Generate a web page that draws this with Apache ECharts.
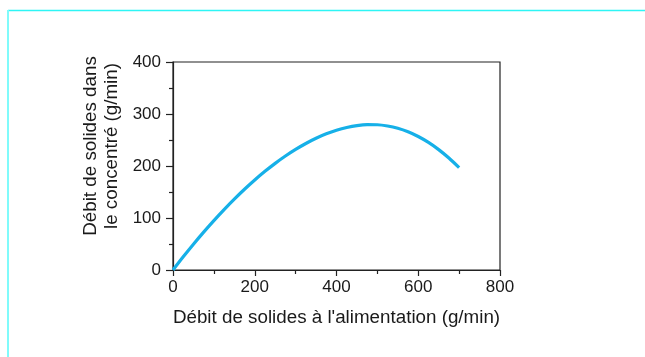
<!DOCTYPE html>
<html>
<head>
<meta charset="utf-8">
<script src="https://cdn.jsdelivr.net/npm/echarts@6/dist/echarts.min.js"></script>
<style>
html,body{margin:0;padding:0;background:#fff;}
#c{width:645px;height:357px;}
</style>
</head>
<body>
<div id="c"></div>
<script>
var feedRate = [0, 25, 50, 75, 100, 125, 150, 175, 200, 225, 250, 275, 300, 325, 350, 375, 400, 425, 450, 475, 500, 525, 550, 575, 600, 625, 650, 675, 700];
var concentrateRate = [0, 25.3, 49.6, 72.8, 95.0, 116.2, 136.3, 155.3, 173.1, 189.7, 205.1, 219.2, 231.9, 243.3, 253.3, 261.8, 268.7, 274.0, 277.7, 279.5, 279.3, 276.9, 272.5, 265.8, 256.7, 245.3, 231.5, 215.3, 196.7];
var xTicks = [0, 200, 400, 600, 800];
var yTicks = [0, 100, 200, 300, 400];
var xTitle = "Débit de solides à l'alimentation (g/min)";
var yTitle = ["Débit de solides dans", "le concentré (g/min)"];

var pts = feedRate.map(function (x, i) { return [x, concentrateRate[i]]; });
var font = "'Liberation Sans', Arial, sans-serif";
var chart = echarts.init(document.getElementById('c'), null, {renderer: 'canvas'});
chart.setOption({
  animation: false,
  backgroundColor: '#fff',
  grid: {left: 173, right: 145, top: 62, bottom: 87, show: true, borderColor: '#222', borderWidth: 1.2, backgroundColor: 'transparent'},
  xAxis: {
    type: 'value', min: xTicks[0], max: xTicks[xTicks.length - 1], interval: 200,
    axisLine: {show: true, lineStyle: {color: '#222', width: 1.2}},
    axisTick: {show: true, length: 6, lineStyle: {color: '#222', width: 1.2}},
    minorTick: {show: true, splitNumber: 2, length: 4, lineStyle: {color: '#222', width: 1.2}},
    splitLine: {show: false},
    axisLabel: {color: '#1a1a1a', fontFamily: font, fontSize: 17, margin: 9},
    name: xTitle, nameLocation: 'middle', nameGap: 38,
    nameTextStyle: {color: '#1a1a1a', fontFamily: font, fontSize: 18.8}
  },
  yAxis: {
    type: 'value', min: yTicks[0], max: yTicks[yTicks.length - 1], interval: 100,
    axisLine: {show: true, lineStyle: {color: '#222', width: 1.2}},
    axisTick: {show: true, length: 7, lineStyle: {color: '#222', width: 1.2}},
    minorTick: {show: true, splitNumber: 2, length: 4, lineStyle: {color: '#222', width: 1.2}},
    splitLine: {show: false},
    axisLabel: {color: '#1a1a1a', fontFamily: font, fontSize: 17, margin: 12}
  },
  graphic: [
    {type: 'line', shape: {x1: 8, y1: 10.5, x2: 645, y2: 10.5}, style: {stroke: '#2ef5f5', lineWidth: 1.5}},
    {type: 'line', shape: {x1: 8, y1: 10, x2: 8, y2: 357}, style: {stroke: '#80fbfb', lineWidth: 2}},
    {type: 'text', x: 91, y: 146, rotation: Math.PI / 2, style: {text: yTitle[0], fill: '#1a1a1a', font: '18.8px ' + font, textAlign: 'center', textVerticalAlign: 'middle'}},
    {type: 'text', x: 112, y: 146, rotation: Math.PI / 2, style: {text: yTitle[1], fill: '#1a1a1a', font: '18.8px ' + font, textAlign: 'center', textVerticalAlign: 'middle'}}
  ],
  series: [{
    type: 'line', data: pts, smooth: 0.3, showSymbol: false,
    lineStyle: {color: '#16b0e8', width: 3.2}
  }]
});
</script>
</body>
</html>
